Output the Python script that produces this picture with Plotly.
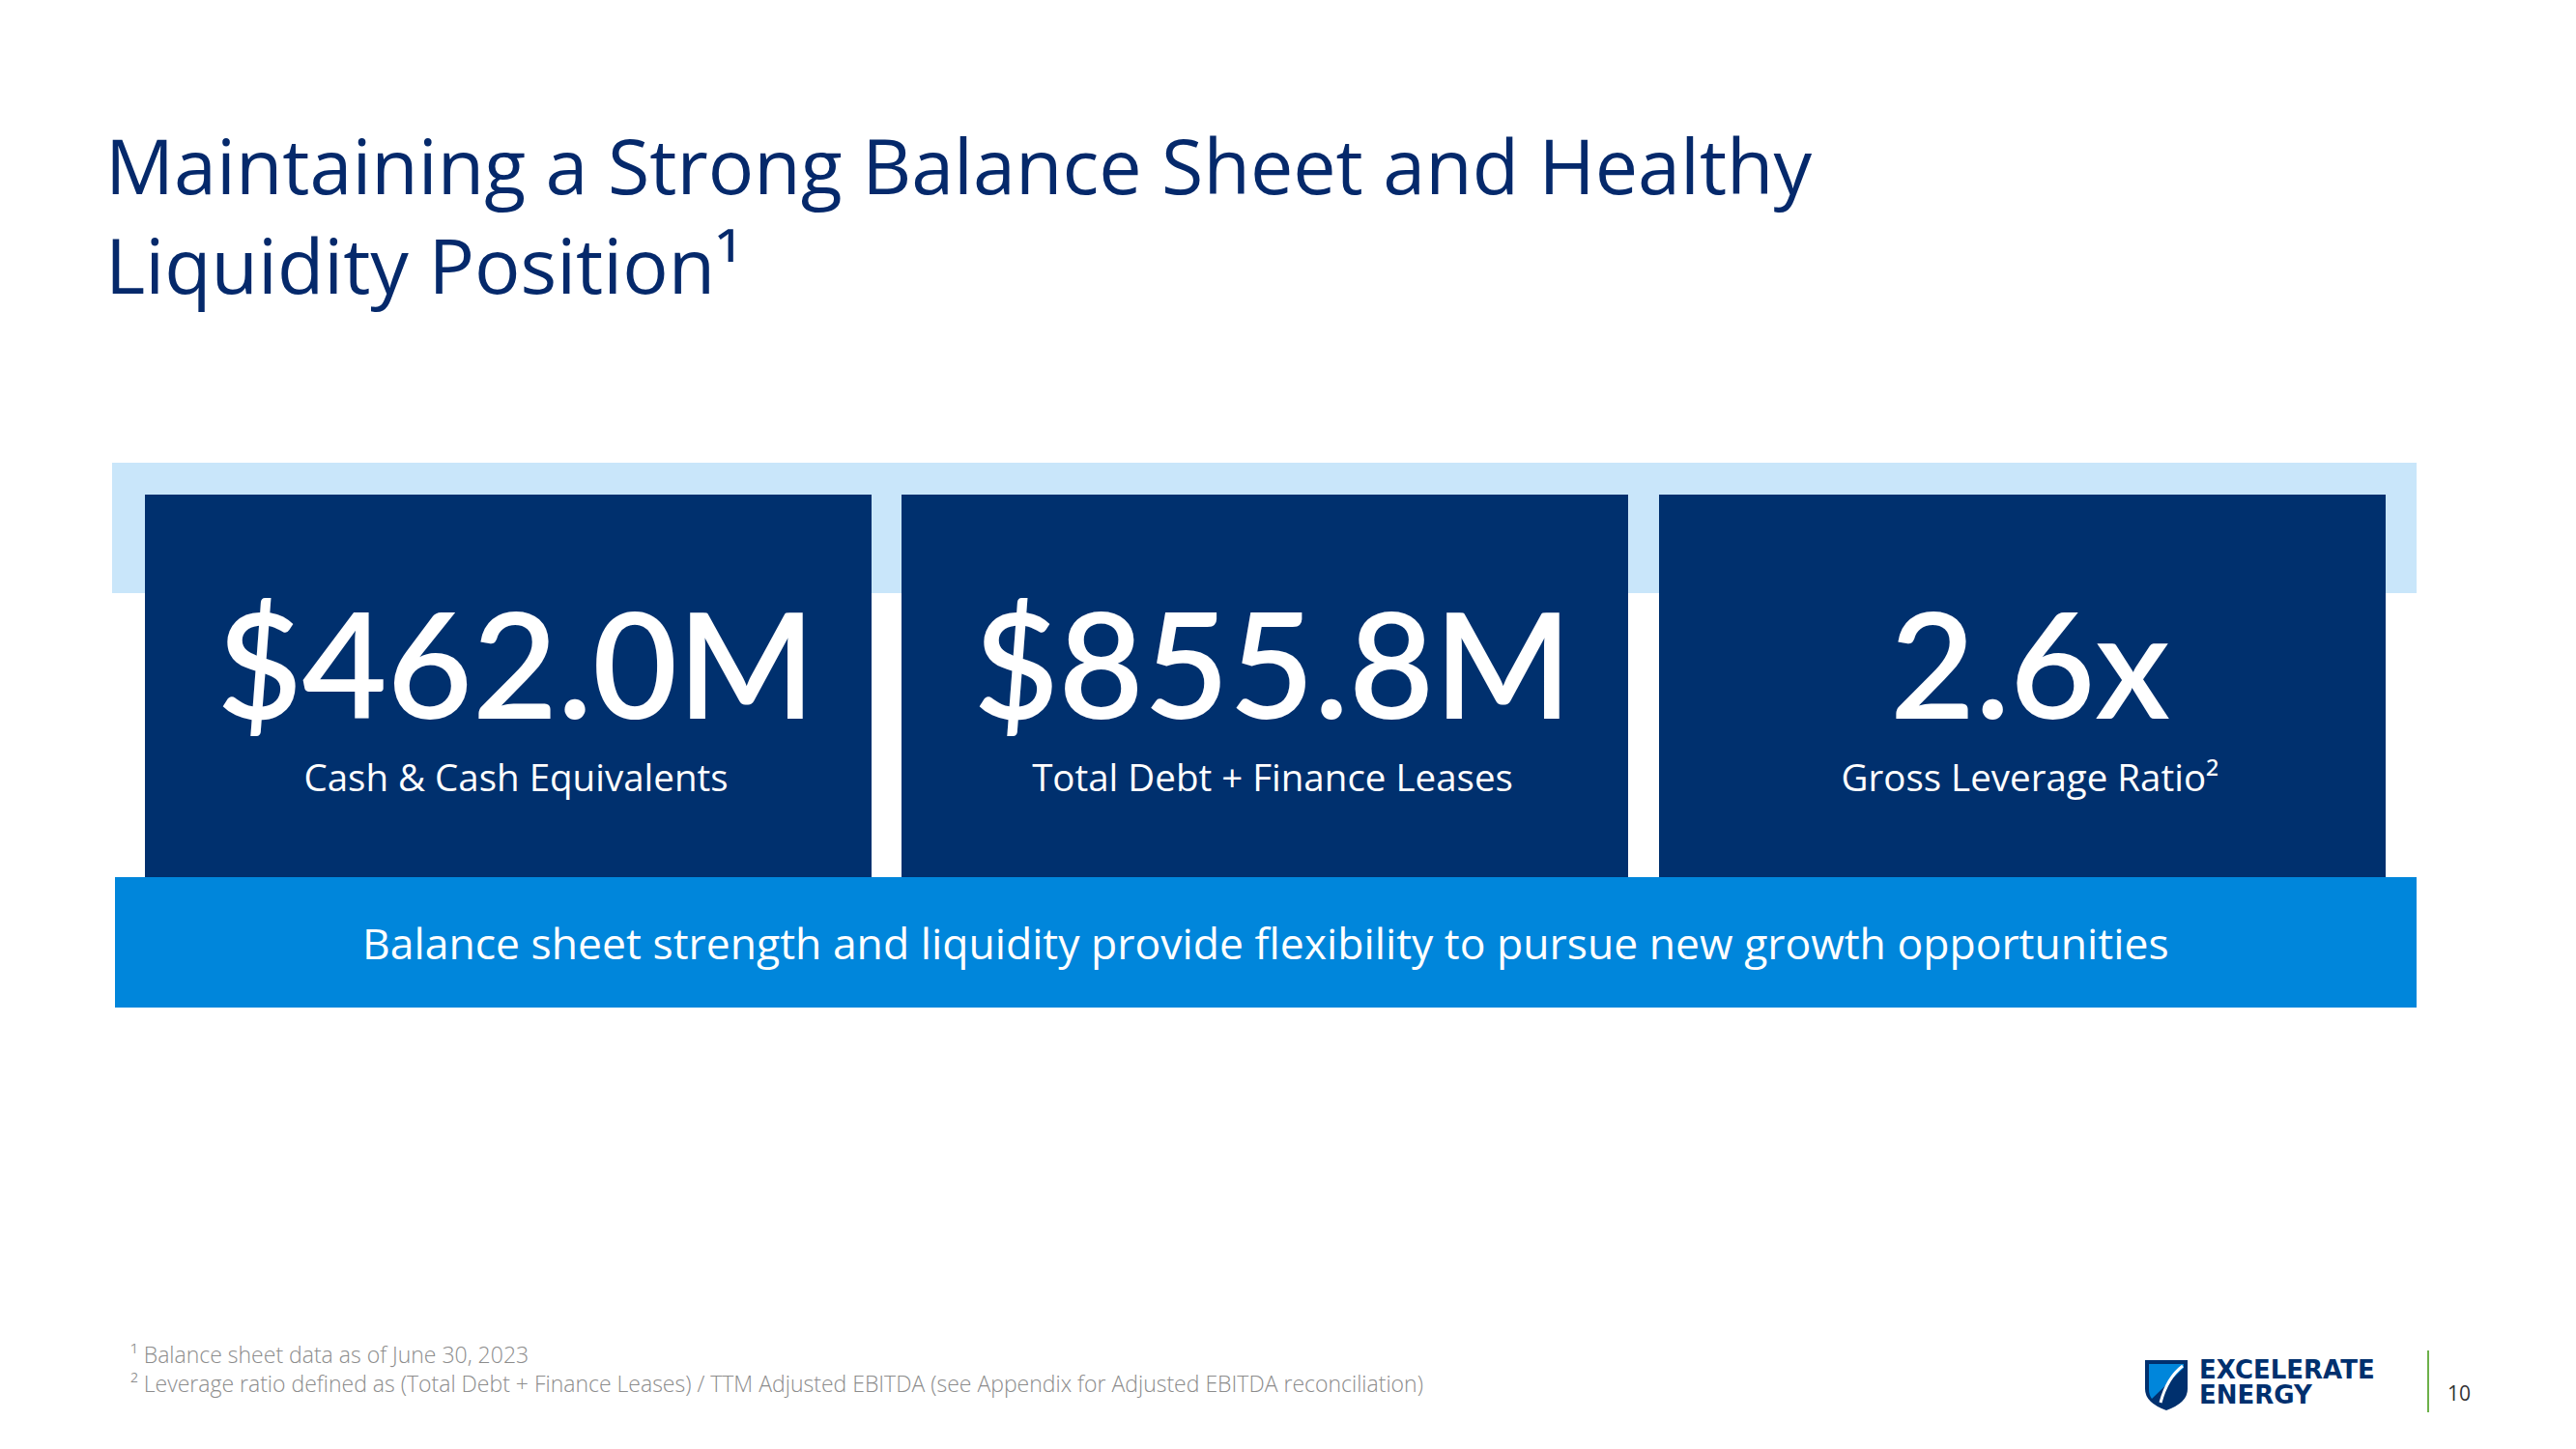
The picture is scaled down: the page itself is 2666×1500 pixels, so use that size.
import plotly.graph_objects as go

# ── Data ──────────────────────────────────────────────────────────────────────
title_lines = [
    "Maintaining a Strong Balance Sheet and Healthy",
    "Liquidity Position¹",
]
kpi_values = ["$462.0M", "$855.8M", "2.6x"]
kpi_labels = [
    "Cash & Cash Equivalents",
    "Total Debt + Finance Leases",
    "Gross Leverage Ratio²",
]
banner_text = "Balance sheet strength and liquidity provide flexibility to pursue new growth opportunities"
footnotes = [
    "¹ Balance sheet data as of June 30, 2023",
    "² Leverage ratio defined as (Total Debt + Finance Leases) / TTM Adjusted EBITDA "
    "(see Appendix for Adjusted EBITDA reconciliation)",
]
logo_lines = ["EXCELERATE", "ENERGY"]
page_number = "10"

# ── Style / layout ────────────────────────────────────────────────────────────
W, H = 2666, 1500
NAVY = "#00306E"
LIGHT = "#C9E6FA"
BRIGHT = "#0086DB"
GREY = "#8C8C8C"

card_x0 = [150, 933, 1717]
card_w = 752
card_y0, card_y1 = 512, 908

fig = go.Figure()

shapes = [
    # pale strip behind the cards
    dict(type="rect", x0=116, x1=2501, y0=479, y1=614, fillcolor=LIGHT, line_width=0, layer="below"),
    # bright banner under the cards
    dict(type="rect", x0=119, x1=2501, y0=908, y1=1043, fillcolor=BRIGHT, line_width=0, layer="below"),
]
for x0 in card_x0:
    shapes.append(dict(type="rect", x0=x0, x1=x0 + card_w, y0=card_y0, y1=card_y1,
                       fillcolor=NAVY, line_width=0, layer="below"))

# logo shield + divider
shapes += [
    dict(type="path", path="M 2220 1408 L 2264 1408 L 2264 1438 Q 2264 1452 2242 1460 Q 2220 1452 2220 1438 Z",
         fillcolor=NAVY, line_width=0),
    dict(type="path", path="M 2224 1412 L 2260 1412 L 2260 1416 L 2227 1448 Q 2224 1444 2224 1438 Z",
         fillcolor=BRIGHT, line_width=0),
    dict(type="path", path="M 2259 1414 Q 2243 1426 2236 1452", line=dict(color="white", width=3)),
    dict(type="line", x0=2513, x1=2513, y0=1398, y1=1462, line=dict(color="#6DB14A", width=2)),
]

# text sits a touch right of the card centre in the original
centers = [x0 + card_w / 2 + 8 for x0 in card_x0]

# KPI values
fig.add_trace(go.Scatter(
    x=centers, y=[706] * len(kpi_values), text=kpi_values, mode="text",
    textposition="middle center",
    textfont=dict(family="Lato", size=152, color="white", weight=600),
    hoverinfo="skip",
))
# KPI labels
fig.add_trace(go.Scatter(
    x=centers, y=[809] * len(kpi_labels), text=kpi_labels, mode="text",
    textposition="middle center",
    textfont=dict(family="Open Sans", size=38.5, color="white", weight=500),
    hoverinfo="skip",
))

annotations = [
    dict(x=107, y=222, text="<br>".join(title_lines), showarrow=False,
         xanchor="left", yanchor="middle", align="left",
         font=dict(family="Open Sans", size=79, color="#05296B")),
    dict(x=1310, y=975, text=banner_text, showarrow=False, xanchor="center", yanchor="middle",
         font=dict(family="Open Sans", size=44.5, color="white")),
    dict(x=133, y=1417, text="<br>".join(footnotes), showarrow=False,
         xanchor="left", yanchor="middle", align="left",
         font=dict(family="Open Sans", size=23, color=GREY, weight=300)),
]
for i, line in enumerate(logo_lines):
    annotations.append(dict(
        x=2274, y=[1418, 1444][i], text=line, showarrow=False, xanchor="left", yanchor="middle",
        font=dict(family="DejaVu Sans", size=26, color=NAVY, weight=700),
    ))
annotations.append(dict(
    x=2545, y=1442, text=page_number, showarrow=False, xanchor="center", yanchor="middle",
    font=dict(family="Open Sans", size=21, color="#333333"),
))

fig.update_layout(
    width=W, height=H,
    margin=dict(l=0, r=0, t=0, b=0),
    paper_bgcolor="white", plot_bgcolor="white",
    showlegend=False,
    xaxis=dict(range=[0, W], visible=False, fixedrange=True),
    yaxis=dict(range=[H, 0], visible=False, fixedrange=True),
    shapes=shapes,
    annotations=annotations,
)

# drop the browser's default 8px body margin so the slide sits at 0,0
fig.write_html("out.html", config={"displayModeBar": False},
               post_script="document.body.style.margin='0px';")
